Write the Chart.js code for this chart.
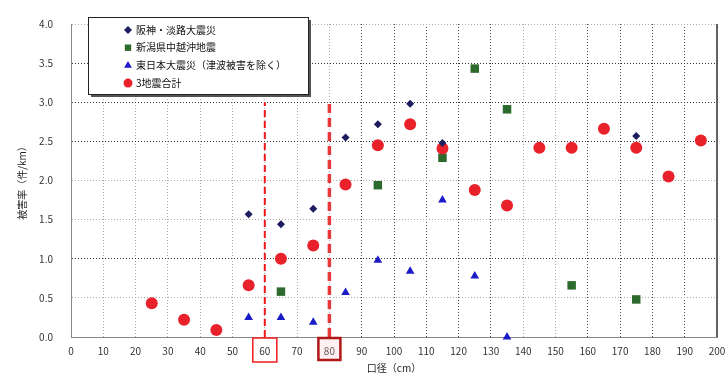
<!DOCTYPE html>
<html><head><meta charset="utf-8">
<script src="https://cdn.jsdelivr.net/npm/chart.js@4.4.1/dist/chart.umd.min.js"></script>
<style>html,body{margin:0;padding:0;background:#fff;}#wrap{width:727px;height:379px;}</style>
</head><body><div id="wrap"><canvas id="c" width="727" height="379"></canvas></div>
<script>
const seriesNames = ['阪神・淡路大震災', '新潟県中越沖地震', '東日本大震災（津波被害を除く）', '3地震合計'];
const xHanshin = [55, 65, 75, 85, 95, 105, 115, 175];
const yHanshin = [1.57, 1.44, 1.64, 2.55, 2.72, 2.98, 2.48, 2.57];
const xChuetsu = [65, 95, 115, 125, 135, 155, 175];
const yChuetsu = [0.58, 1.94, 2.29, 3.43, 2.91, 0.66, 0.48];
const xTohoku = [55, 65, 75, 85, 95, 105, 115, 125, 135];
const yTohoku = [0.25, 0.25, 0.19, 0.57, 0.98, 0.84, 1.75, 0.78, 0.0];
const xTotal = [25, 35, 45, 55, 65, 75, 85, 95, 105, 115, 125, 135, 145, 155, 165, 175, 185, 195];
const yTotal = [0.43, 0.22, 0.09, 0.66, 1.0, 1.17, 1.95, 2.45, 2.72, 2.41, 1.88, 1.68, 2.42, 2.42, 2.66, 2.42, 2.05, 2.51];
const markLines = [60, 80];
const markLineTop = 3.0;
const xTitle = '口径（cm）';
const yTitle = '被害率（件/km）';

const pts = (xs, ys) => xs.map((x, i) => ({x: x, y: ys[i]}));
const FONT = '"Noto Sans CJK JP", "Noto Sans", sans-serif';

const styles = [
  {color: '#1c1c5e', pointStyle: 'rectRot', r: 4},
  {color: '#2d6a2d', pointStyle: 'rect', r: 6},
  {color: '#1b1bc8', pointStyle: 'triangle', r: 5},
  {color: '#e8212b', pointStyle: 'circle', r: 6}
];
const seriesData = [pts(xHanshin, yHanshin), pts(xChuetsu, yChuetsu), pts(xTohoku, yTohoku), pts(xTotal, yTotal)];

const datasets = seriesData.map((d, i) => ({
  type: 'scatter', label: seriesNames[i], data: d,
  pointStyle: styles[i].pointStyle, pointRadius: styles[i].r, pointHoverRadius: styles[i].r,
  backgroundColor: styles[i].color, borderColor: styles[i].color, borderWidth: 0,
  clip: false, order: i === 0 ? 0 : 4 - i
}));
datasets.push({type: 'line', label: '_m60', data: [{x: markLines[0], y: 0}, {x: markLines[0], y: markLineTop}],
  borderColor: '#f01818', borderWidth: 2, borderDash: [7, 4], pointRadius: 0, order: 10});
datasets.push({type: 'line', label: '_m80', data: [{x: markLines[1], y: 0}, {x: markLines[1], y: markLineTop}],
  borderColor: '#e8383c', borderWidth: 3.5, borderDash: [9, 5], pointRadius: 0, order: 10});

const darkY = [1.0, 2.5, 3.0, 3.5];
const darkX = [90, 100, 110, 120, 130, 160, 170, 180, 190];

const overlay = {
  id: 'overlay',
  afterDraw(chart) {
    const ctx = chart.ctx;
    const xs = chart.scales.x;
    const ys = chart.scales.y;
    const b0 = xs.getPixelForValue(markLines[0]);
    ctx.save();
    ctx.strokeStyle = '#f21c1c'; ctx.lineWidth = 1.5;
    ctx.strokeRect(b0 - 12, ys.bottom + 1, 24, 24);
    const b1 = xs.getPixelForValue(markLines[1]);
    ctx.fillStyle = 'rgba(255,200,200,0.25)';
    ctx.fillRect(b1 - 11, ys.bottom + 1, 22, 22);
    ctx.strokeStyle = '#b01818'; ctx.lineWidth = 2.5;
    ctx.strokeRect(b1 - 11, ys.bottom + 1, 22, 22);
    const L = 88, T = 17, W = 220, H = 77;
    ctx.fillStyle = '#555';
    ctx.fillRect(L + 3, T + 3, W, H);
    ctx.fillStyle = '#fff';
    ctx.fillRect(L, T, W, H);
    ctx.strokeStyle = '#222'; ctx.lineWidth = 1;
    ctx.strokeRect(L + 0.5, T + 0.5, W, H);
    ctx.font = '10px ' + FONT;
    ctx.textBaseline = 'middle';
    ctx.textAlign = 'left';
    seriesNames.forEach((name, i) => {
      const y = T + 13 + i * 17.7;
      const s = styles[i];
      ctx.fillStyle = s.color;
      Chart.helpers.drawPoint(ctx, {pointStyle: s.pointStyle, radius: Math.min(s.r, 4.5), rotation: 0, borderWidth: 0}, L + 40, y);
      ctx.fillStyle = '#111';
      ctx.fillText(name, L + 48, y);
    });
    ctx.restore();
  }
};

new Chart(document.getElementById('c'), {
  data: {datasets: datasets},
  options: {
    responsive: false, animation: false, devicePixelRatio: 1,
    layout: {padding: {left: 0, right: 10, top: 15, bottom: 0}},
    plugins: {legend: {display: false}, tooltip: {enabled: false}},
    scales: {
      x: {
        type: 'linear', min: 0, max: 200,
        ticks: {stepSize: 10, padding: 8, color: '#333', font: {size: 10, family: FONT}, maxRotation: 0, autoSkip: false},
        grid: {drawTicks: false, color: ctx => darkX.includes(ctx.tick && ctx.tick.value) ? '#444' : '#aaa', lineWidth: 1},
        border: {display: true, color: '#888', width: 1, dash: [1, 2]},
        title: {display: true, text: xTitle, color: '#222', font: {size: 10, family: FONT}, padding: {top: 0, bottom: 5}},
        afterFit: s => { s.height = 42; s.paddingRight = 0; s.paddingLeft = 0; }
      },
      y: {
        type: 'linear', min: 0, max: 4,
        ticks: {stepSize: 0.5, padding: 18, color: '#333', font: {size: 10, family: FONT}, callback: v => Number(v).toFixed(1)},
        grid: {drawTicks: false, color: ctx => darkY.includes(ctx.tick && ctx.tick.value) ? '#333' : '#aaa', lineWidth: 1},
        border: {display: true, color: '#888', width: 1, dash: [1, 2]},
        title: {display: true, text: yTitle, color: '#222', font: {size: 10, family: FONT}, padding: {top: 16, bottom: 0}},
        afterFit: s => { s.width = 71; }
      }
    }
  },
  plugins: [overlay, {
    id: 'rightBorder',
    afterDatasetsDraw(chart) {
      const a = chart.chartArea, ctx = chart.ctx;
      ctx.save(); ctx.strokeStyle = '#333'; ctx.lineWidth = 1.5;
      ctx.beginPath(); ctx.moveTo(a.right, a.top); ctx.lineTo(a.right, a.bottom); ctx.stroke();
      ctx.restore();
    }
  }]
});
</script>
</body></html>
